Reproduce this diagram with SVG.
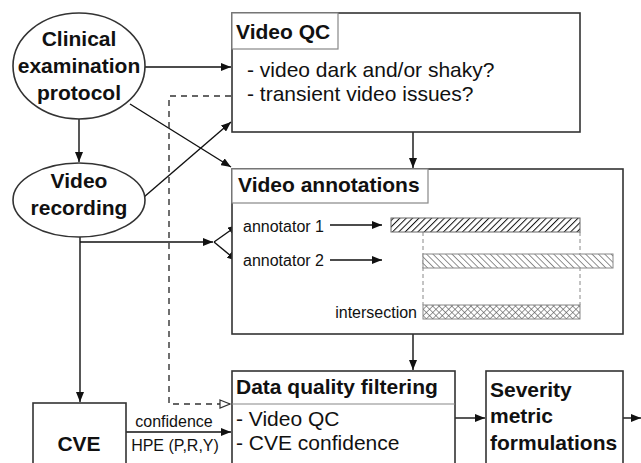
<svg xmlns="http://www.w3.org/2000/svg" width="641" height="463" viewBox="0 0 641 463">
<defs>
<style>
.b{font-family:"Liberation Sans",Arial,sans-serif;font-weight:bold;font-size:21px;fill:#111}
.r{font-family:"Liberation Sans",Arial,sans-serif;font-size:21px;fill:#111}
.s{font-family:"Liberation Sans",Arial,sans-serif;font-size:16px;fill:#111}
.node{fill:#fff;stroke:#333;stroke-width:1.6}
.hdr{fill:#fff;stroke:#888;stroke-width:1.2}
.ln{fill:none;stroke:#111;stroke-width:1.4}
.dash{fill:none;stroke:#333;stroke-width:1.4;stroke-dasharray:6,5}
.gd{fill:none;stroke:#888;stroke-width:1;stroke-dasharray:4,3}
</style>
<marker id="ah" viewBox="0 0 10 8" refX="10" refY="4" markerWidth="10" markerHeight="8" markerUnits="userSpaceOnUse" orient="auto">
<path d="M0,0 L10,4 L0,8 Z" fill="#111"/>
</marker>
<marker id="oh" viewBox="0 0 12 10" refX="11" refY="5" markerWidth="12" markerHeight="10" markerUnits="userSpaceOnUse" orient="auto">
<path d="M1,1 L11,5 L1,9 Z" fill="#fff" stroke="#333" stroke-width="1.2"/>
</marker>
<pattern id="h1" width="4.5" height="4.5" patternUnits="userSpaceOnUse" patternTransform="rotate(45)">
<rect width="4.5" height="4.5" fill="#fff"/>
<line x1="0" y1="0" x2="0" y2="4.5" stroke="#111" stroke-width="2"/>
</pattern>
<pattern id="h2" width="4.5" height="4.5" patternUnits="userSpaceOnUse" patternTransform="rotate(-45)">
<rect width="4.5" height="4.5" fill="#fff"/>
<line x1="0" y1="0" x2="0" y2="4.5" stroke="#555" stroke-width="1.3"/>
</pattern>
<pattern id="h3" width="4.5" height="4.5" patternUnits="userSpaceOnUse" patternTransform="rotate(45)">
<rect width="4.5" height="4.5" fill="#fff"/>
<line x1="0" y1="0" x2="0" y2="4.5" stroke="#555" stroke-width="1.2"/>
<line x1="0" y1="0" x2="4.5" y2="0" stroke="#555" stroke-width="1.2"/>
</pattern>
</defs>
<rect width="641" height="463" fill="#fff"/>

<g id="connectors">
<line class="ln" x1="79" y1="119" x2="79" y2="162" marker-end="url(#ah)"/>
<line class="ln" x1="145" y1="67" x2="231" y2="67" marker-end="url(#ah)"/>
<line class="ln" x1="130" y1="104" x2="231" y2="167" marker-end="url(#ah)"/>
<line class="ln" x1="144" y1="197" x2="231" y2="122" marker-end="url(#ah)"/>
<polyline class="dash" points="231,96 169,96 169,404 230,404" marker-end="url(#oh)"/>
<line class="ln" x1="413" y1="132" x2="413" y2="168" marker-end="url(#ah)"/>
<line class="ln" x1="80" y1="237" x2="80" y2="402" marker-end="url(#ah)"/>
<line class="ln" x1="80" y1="242" x2="213" y2="242" marker-end="url(#ah)"/>
<line class="ln" x1="214" y1="242" x2="238" y2="225" marker-end="url(#ah)"/>
<line class="ln" x1="214" y1="242" x2="237" y2="261" marker-end="url(#ah)"/>
<line class="ln" x1="126" y1="432" x2="231" y2="432" marker-end="url(#ah)"/>
<line class="ln" x1="413" y1="334" x2="413" y2="370" marker-end="url(#ah)"/>
<line class="ln" x1="455" y1="418" x2="485" y2="418" marker-end="url(#ah)"/>
<line class="ln" x1="623" y1="418" x2="641" y2="418" marker-end="url(#ah)"/>
<text class="s" x="174" y="427" text-anchor="middle">confidence</text>
<text class="s" x="175" y="451" text-anchor="middle">HPE (P,R,Y)</text>
</g>

<g id="clinical">
<ellipse class="node" cx="79" cy="66" rx="66" ry="53"/>
<text class="b" x="79" y="46" text-anchor="middle">Clinical</text>
<text class="b" x="79" y="73" text-anchor="middle">examination</text>
<text class="b" x="79" y="100" text-anchor="middle">protocol</text>
</g>

<g id="video-recording">
<ellipse class="node" cx="79" cy="200" rx="66" ry="37"/>
<text class="b" x="79" y="188" text-anchor="middle">Video</text>
<text class="b" x="79" y="215" text-anchor="middle">recording</text>
</g>

<g id="video-qc">
<rect class="node" x="232" y="13" width="348" height="119"/>
<rect class="hdr" x="232" y="13" width="106" height="36"/>
<text class="b" x="236" y="39">Video QC</text>
<text class="r" x="247" y="77">- video dark and/or shaky?</text>
<text class="r" x="247" y="101">- transient video issues?</text>
</g>

<g id="video-annotations">
<rect class="node" x="232" y="169" width="391" height="165"/>
<rect class="hdr" x="232" y="169" width="196" height="34"/>
<text class="b" x="238" y="192">Video annotations</text>
<text class="s" x="243" y="232">annotator 1</text>
<line class="ln" x1="330" y1="225" x2="382" y2="225" marker-end="url(#ah)"/>
<text class="s" x="243" y="266">annotator 2</text>
<line class="ln" x1="330" y1="260" x2="382" y2="260" marker-end="url(#ah)"/>
<text class="s" x="417" y="318" text-anchor="end">intersection</text>
<line class="gd" x1="423" y1="232" x2="423" y2="305"/>
<line class="gd" x1="580" y1="232" x2="580" y2="305"/>
<rect x="391" y="218" width="189" height="14" fill="url(#h1)" stroke="#666" stroke-width="1"/>
<rect x="423" y="254" width="190" height="14" fill="url(#h2)" stroke="#888" stroke-width="1"/>
<rect x="423" y="305" width="157" height="14" fill="url(#h3)" stroke="#888" stroke-width="1"/>
</g>

<g id="cve">
<rect class="node" x="33" y="403" width="93" height="70"/>
<text class="b" x="79" y="451" text-anchor="middle">CVE</text>
</g>

<g id="data-quality">
<rect class="node" x="232" y="371" width="223" height="100"/>
<line x1="232" y1="404" x2="455" y2="404" stroke="#888" stroke-width="1.2"/>
<text class="b" x="236" y="394">Data quality filtering</text>
<text class="r" x="236" y="426">- Video QC</text>
<text class="r" x="236" y="450">- CVE confidence</text>
</g>

<g id="severity">
<rect class="node" x="486" y="371" width="137" height="100"/>
<text class="b" x="490" y="397">Severity</text>
<text class="b" x="490" y="423">metric</text>
<text class="b" x="490" y="450">formulations</text>
</g>
</svg>
